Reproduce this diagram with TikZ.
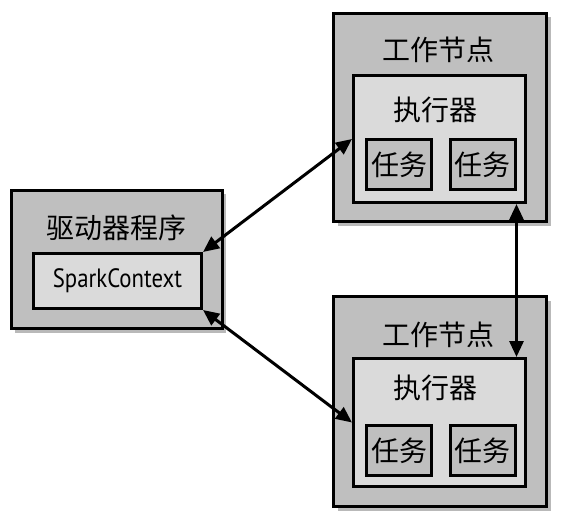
\documentclass[tikz,border=0pt]{standalone}
\usepackage{fontspec}
\setmainfont{Noto Sans CJK SC}
\newfontfamily\latinfont[FakeStretch=0.86]{PT Sans}
\usetikzlibrary{shapes,arrows.meta,positioning,calc,shadows}
\definecolor{darkgrey}{RGB}{191,191,191}
\definecolor{lightgrey}{RGB}{218,218,218}
\tikzset{
outerbox/.style = {draw, line width=3pt, fill=darkgrey, rectangle, drop shadow={shadow xshift=4pt, shadow yshift=-4pt, opacity=0.55}},
innerbox/.style = {draw, line width=3pt, fill=lightgrey, rectangle},
taskbox/.style = {draw, line width=3pt, fill=darkgrey, rectangle, minimum width=65pt, minimum height=50pt, inner sep=0pt, font=\fontsize{28}{32}\selectfont},
title/.style = {font=\fontsize{28}{32}\selectfont, inner sep=0pt},
link/.style = {line width=3pt, <->},
}
\begin{document}
\begin{tikzpicture}[x=1pt, y=-1pt, >={Triangle[length=16pt,width=14pt]}]
\useasboundingbox (0,0) rectangle (568,524);
\node [outerbox, minimum width=211pt, minimum height=138pt] (driver) at (116.5,259.5) {};
\node [title] (drivertitle) at (116,228) {驱动器程序};
\node [innerbox, minimum width=168pt, minimum height=55pt, font=\latinfont\fontsize{26.5}{30}\selectfont] (sc) at (117.5,281) {SparkContext};
\node [outerbox, minimum width=213pt, minimum height=208pt] (worker1) at (440,117.5) {};
\node [title] (worker1title) at (438,50) {工作节点};
\node [innerbox, minimum width=172pt, minimum height=127pt] (exec1) at (439.5,139) {};
\node [title] (exec1title) at (435,110) {执行器};
\node [taskbox] (task11) at (399,164.5) {任务};
\node [taskbox] (task12) at (482.5,164.5) {任务};
\node [outerbox, minimum width=213pt, minimum height=210pt] (worker2) at (440,401.5) {};
\node [title] (worker2title) at (438,335) {工作节点};
\node [innerbox, minimum width=172pt, minimum height=128pt] (exec2) at (439.5,422.5) {};
\node [title] (exec2title) at (435,388) {执行器};
\node [taskbox] (task21) at (399,450.5) {任务};
\node [taskbox] (task22) at (482.5,450.5) {任务};
\draw [link] (sc.north east) -- (exec1.west);
\draw [link] (sc.south east) -- (exec2.west);
\draw [link] (task12.east |- exec1.south) -- (task22.east |- exec2.north);
\end{tikzpicture}
\end{document}
